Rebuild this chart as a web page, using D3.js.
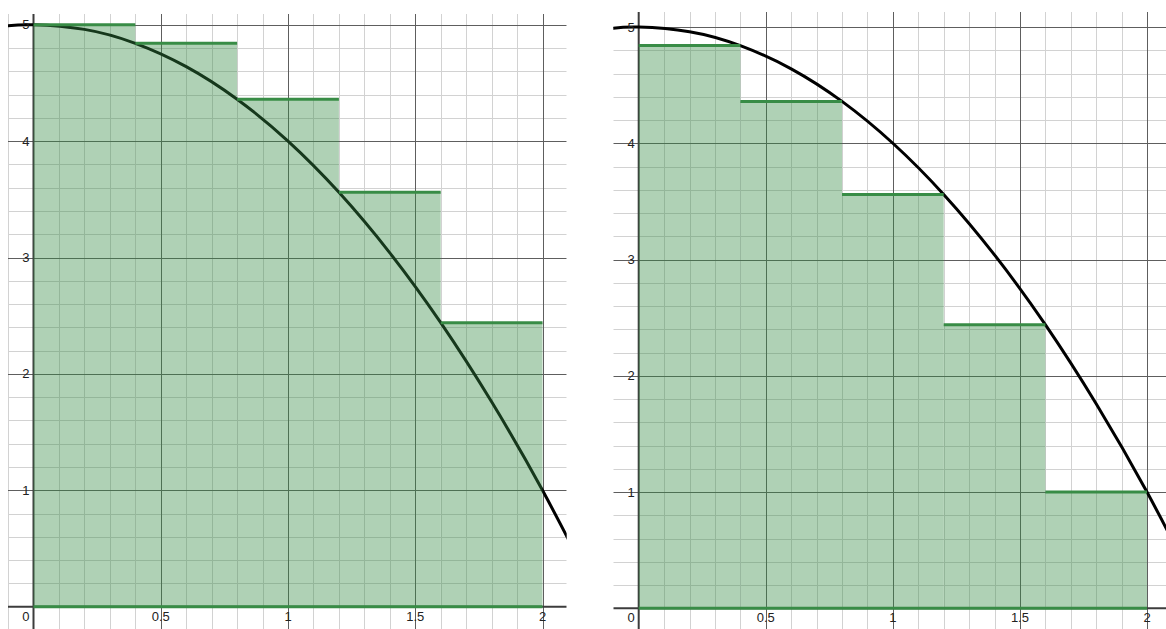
<!DOCTYPE html>
<html>
<head>
<meta charset="utf-8">
<script src="https://cdn.jsdelivr.net/npm/d3@7"></script>
<style>
  body { margin: 0; background: #fff; }
  .tick-label { font-family: "Liberation Sans", Arial, sans-serif; font-size: 13px; fill: #222; }
</style>
</head>
<body>
<div id="chart"></div>
<script>
// step edges of the five sub-intervals
const stepEdges = [0, 0.4, 0.8, 1.2, 1.6, 2.0];
// rectangle heights
const leftHeights = [5, 4.84, 4.36, 3.56, 2.44];
const rightHeights = [4.84, 4.36, 3.56, 2.44, 1];
// points along the black curve
const curveX = [-0.2, -0.1, 0, 0.2, 0.4, 0.6, 0.8, 1.0, 1.2, 1.4, 1.6, 1.8, 2.0, 2.2];
const curveY = [4.96, 4.99, 5, 4.96, 4.84, 4.64, 4.36, 4.0, 3.56, 3.04, 2.44, 1.76, 1.0, 0.16];
// axis labels
const xLabels = [0.5, 1, 1.5, 2];
const yLabels = [1, 2, 3, 4, 5];

const svg = d3.select("#chart").append("svg")
    .attr("width", 1166)
    .attr("height", 629);

const panels = [
    {id: "left", heights: leftHeights, x0: 33.5, x2: 542.5, y0: 606.7, y5: 24.7,
     box: {left: 8, right: 566.7, top: 14, bottom: 629}},
    {id: "right", heights: rightHeights, x0: 638.7, x2: 1147, y0: 608.3, y5: 27,
     box: {left: 613.3, right: 1166, top: 12, bottom: 629}}
];

panels.forEach(p => {
    let x = d3.scaleLinear().domain([0, 2]).range([p.x0, p.x2]);
    let y = d3.scaleLinear().domain([0, 5]).range([p.y0, p.y5]);
    let b = p.box;

    svg.append("clipPath")
        .attr("id", "clip-" + p.id)
        .append("rect")
        .attr("x", b.left).attr("y", b.top)
        .attr("width", b.right - b.left).attr("height", b.bottom - b.top);

    let g = svg.append("g").attr("clip-path", "url(#clip-" + p.id + ")");

    let xMin = x.invert(b.left), xMax = x.invert(b.right);
    let yMin = y.invert(b.bottom), yMax = y.invert(b.top);

    // minor grid
    let minorX = d3.range(Math.ceil(xMin * 10), Math.floor(xMax * 10) + 1).map(d => d / 10);
    let minorY = d3.range(Math.ceil(yMin * 5), Math.floor(yMax * 5) + 1).map(d => d / 5);

    g.selectAll(".minor-x").data(minorX.filter(d => Math.abs(d * 2 - Math.round(d * 2)) > 1e-6))
        .enter().append("line")
        .attr("x1", d => Math.round(x(d)) + 0.5).attr("x2", d => Math.round(x(d)) + 0.5)
        .attr("y1", b.top).attr("y2", b.bottom)
        .attr("stroke", "#d2d2d2").attr("stroke-width", 1);

    g.selectAll(".minor-y").data(minorY.filter(d => Math.abs(d - Math.round(d)) > 1e-6))
        .enter().append("line")
        .attr("y1", d => Math.round(y(d)) + 0.5).attr("y2", d => Math.round(y(d)) + 0.5)
        .attr("x1", b.left).attr("x2", b.right)
        .attr("stroke", "#d2d2d2").attr("stroke-width", 1);

    // major grid
    let majorX = minorX.filter(d => Math.abs(d * 2 - Math.round(d * 2)) < 1e-6 && Math.abs(d) > 1e-6);
    let majorY = minorY.filter(d => Math.abs(d - Math.round(d)) < 1e-6 && Math.abs(d) > 1e-6);

    g.selectAll(".major-x").data(majorX)
        .enter().append("line")
        .attr("x1", d => Math.round(x(d)) + 0.5).attr("x2", d => Math.round(x(d)) + 0.5)
        .attr("y1", b.top).attr("y2", b.bottom)
        .attr("stroke", "#5e5e5e").attr("stroke-width", 1);

    g.selectAll(".major-y").data(majorY)
        .enter().append("line")
        .attr("y1", d => Math.round(y(d)) + 0.5).attr("y2", d => Math.round(y(d)) + 0.5)
        .attr("x1", b.left).attr("x2", b.right)
        .attr("stroke", "#5e5e5e").attr("stroke-width", 1);

    // axes
    g.append("line")
        .attr("x1", b.left).attr("x2", b.right)
        .attr("y1", y(0)).attr("y2", y(0))
        .attr("stroke", "#3c3c3c").attr("stroke-width", 2);
    g.append("line")
        .attr("x1", x(0)).attr("x2", x(0))
        .attr("y1", b.top).attr("y2", b.bottom)
        .attr("stroke", "#3c3c3c").attr("stroke-width", 2);

    // curve
    let pts = curveX.map((d, i) => [d, curveY[i]]);
    let line = d3.line()
        .x(d => x(d[0]))
        .y(d => y(d[1]))
        .curve(d3.curveNatural);
    g.append("path")
        .attr("d", line(pts))
        .attr("fill", "none")
        .attr("stroke", "#000")
        .attr("stroke-width", 3);

    // rectangles
    let rects = p.heights.map((h, i) => ({a: stepEdges[i], c: stepEdges[i + 1], h: h}));
    g.selectAll(".bar").data(rects)
        .enter().append("rect")
        .attr("x", d => x(d.a))
        .attr("width", d => x(d.c) - x(d.a))
        .attr("y", d => y(d.h))
        .attr("height", d => y(0) - y(d.h))
        .attr("fill", "#388c46")
        .attr("fill-opacity", 0.4);

    // top edges
    g.selectAll(".bar-top").data(rects)
        .enter().append("line")
        .attr("x1", d => x(d.a)).attr("x2", d => x(d.c))
        .attr("y1", d => y(d.h)).attr("y2", d => y(d.h))
        .attr("stroke", "#388c46").attr("stroke-width", 3);

    // bottom edge
    g.append("line")
        .attr("x1", x(stepEdges[0])).attr("x2", x(stepEdges[stepEdges.length - 1]))
        .attr("y1", y(0)).attr("y2", y(0))
        .attr("stroke", "#388c46").attr("stroke-width", 3);

    // labels
    g.selectAll(".ylab").data(yLabels)
        .enter().append("text")
        .attr("class", "tick-label")
        .attr("x", x(0) - 4)
        .attr("y", d => y(d))
        .attr("dy", "0.35em")
        .attr("text-anchor", "end")
        .text(d => d);

    g.selectAll(".xlab").data(xLabels)
        .enter().append("text")
        .attr("class", "tick-label")
        .attr("x", d => x(d))
        .attr("y", y(0) + 14)
        .attr("text-anchor", "middle")
        .text(d => d);

    g.append("text")
        .attr("class", "tick-label")
        .attr("x", x(0) - 4)
        .attr("y", y(0) + 14)
        .attr("text-anchor", "end")
        .text("0");
});
</script>
</body>
</html>
